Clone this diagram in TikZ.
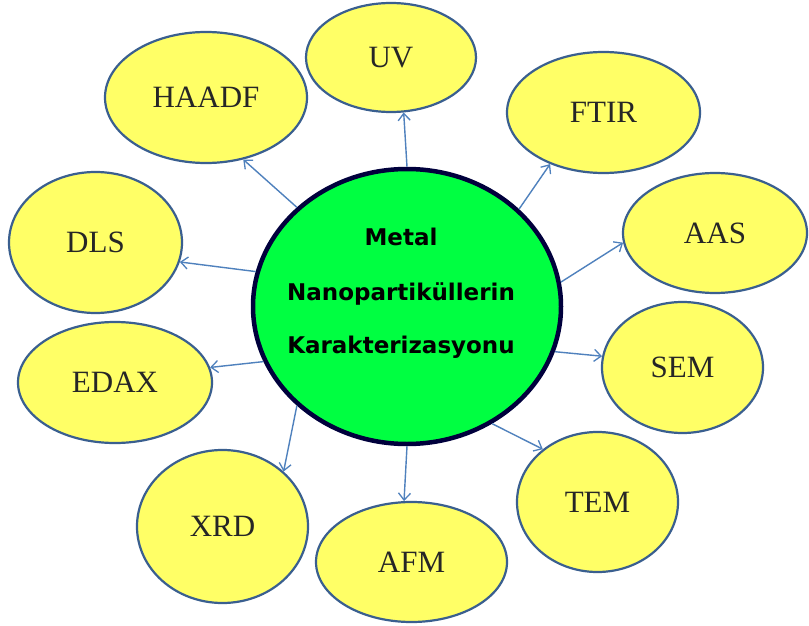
\documentclass[tikz,border=0pt]{standalone}
\usepackage{fontspec}
\setmainfont{Liberation Serif}
\newfontfamily\dvsans{DejaVu Sans}
\usetikzlibrary{shapes.geometric,arrows.meta}
\definecolor{yel}{HTML}{FFFF66}
\definecolor{yedge}{HTML}{3A5F8F}
\definecolor{grn}{HTML}{00FF41}
\definecolor{gedge}{HTML}{00003C}
\definecolor{arr}{HTML}{4F81BD}
\tikzset{
  tech/.style={ellipse, draw=yedge, line width=2.2pt, fill=yel, inner sep=0pt,
    font=\fontsize{31}{31}\selectfont, text=black!85},
  hub/.style={ellipse, draw=gedge, line width=4.5pt, fill=grn, inner sep=0pt,
    minimum width=308pt, minimum height=275pt},
  hubtext/.style={anchor=base, font=\dvsans\bfseries\fontsize{23}{23}\selectfont, inner sep=0pt},
  link/.style={draw=arr, line width=1.4pt, -{Straight Barb[length=7pt,width=12pt,line width=1.3pt]}}
}
\newcommand{\lbl}[1]{\raisebox{-2pt}{#1}}
\begin{document}
\begin{tikzpicture}[x=1pt,y=-1pt]
\useasboundingbox (0,0) rectangle (809,626);
\fill[white] (0,0) rectangle (809,626);
% hub
\node[hub] (c) at (407,306.5) {};
\node[hubtext] (t1) at (401,245) {Metal};
\node[hubtext] (t2) at (401,300) {Nanopartiküllerin};
\node[hubtext] (t3) at (401,353) {Karakterizasyonu};
% techniques
\node[tech, minimum width=170pt, minimum height=109pt] (uv) at (391,57.5) {\lbl{UV}};
\node[tech, minimum width=202pt, minimum height=131pt] (haadf) at (206,97.5) {\lbl{HAADF}};
\node[tech, minimum width=193pt, minimum height=121pt] (ftir) at (603.5,112.5) {\lbl{FTIR}};
\node[tech, minimum width=173pt, minimum height=141pt] (dls) at (95.5,242.5) {\lbl{DLS}};
\node[tech, minimum width=184pt, minimum height=120pt] (aas) at (715,233) {\lbl{AAS}};
\node[tech, minimum width=194pt, minimum height=121pt] (edax) at (115,382.5) {\lbl{EDAX}};
\node[tech, minimum width=161pt, minimum height=131pt] (sem) at (682.5,367.5) {\lbl{SEM}};
\node[tech, minimum width=171pt, minimum height=153pt] (xrd) at (222.5,526.5) {\lbl{XRD}};
\node[tech, minimum width=191pt, minimum height=120pt] (afm) at (411.5,562) {\lbl{AFM}};
\node[tech, minimum width=161pt, minimum height=140pt] (tem) at (597.5,502) {\lbl{TEM}};
% links
\draw[link] (c.90) -- (uv.-77.8);
\draw[link] (c.138.7) -- (haadf.-59.2);
\draw[link] (c.41.9) -- (ftir.224.5);
\draw[link] (c.167.6) -- (dls.-13.3);
\draw[link] (c.9) -- (aas.186.2);
\draw[link] (c.201.1) -- (edax.9.1);
\draw[link] (c.-17.1) -- (sem.172.6);
\draw[link] (c.222.7) -- (xrd.42.5);
\draw[link] (c.270) -- (afm.97.8);
\draw[link] (c.-54) -- (tem.136.9);
\end{tikzpicture}
\end{document}
